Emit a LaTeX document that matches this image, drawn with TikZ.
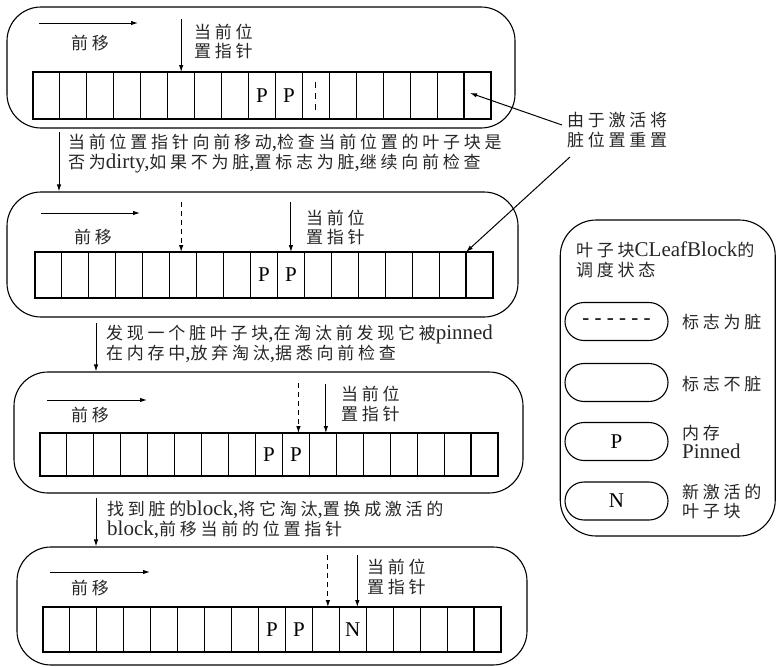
\documentclass[tikz,border=0pt]{standalone}
\usepackage{fontspec}
\setmainfont{Liberation Serif}
\newfontfamily\cjk[LetterSpace=22]{Noto Sans CJK SC}
\usetikzlibrary{arrows.meta}
\newcommand{\la}[1]{{\rmfamily\fontsize{21}{19.5}\selectfont #1}}
\tikzset{
  panel/.style={draw, line width=1.1pt, rounded corners=34pt, inner sep=0pt},
  legendbox/.style={draw, line width=1.1pt, rounded corners=36pt, inner sep=0pt},
  cellbox/.style={draw, line width=1.1pt, minimum width=26.94pt, inner sep=0pt, outer sep=0pt},
  pill/.style={draw, line width=1.1pt, rounded corners=19pt, minimum width=103pt, minimum height=38pt, inner sep=0pt},
  arr/.style={line width=1pt, -{Latex[length=7pt,width=4.5pt]}},
  darr/.style={arr, dash pattern=on 5pt off 4pt},
  txt/.style={inner sep=0pt, align=left, text=black!85, font=\cjk\fontsize{17}{19.5}\selectfont},
  ltr/.style={inner sep=0pt, font=\rmfamily\fontsize{21}{21}\selectfont},
}
\begin{document}
\begin{tikzpicture}[x=1pt, y=-1pt]
\useasboundingbox (0,0) rectangle (777,667);

% ---------- panels ----------
\node[panel, minimum width=508pt, minimum height=121pt] (p1) at (261,67.5) {};
\node[panel, minimum width=511pt, minimum height=125pt] (p2) at (262.5,254.5) {};
\node[panel, minimum width=509pt, minimum height=121pt] (p3) at (268.5,432.5) {};
\node[panel, minimum width=510pt, minimum height=118pt] (p4) at (272,606) {};

% ---------- cells ----------
\foreach \i in {0,...,16} {
  \node[cellbox, minimum height=47pt] (c1-\i) at ({33+26.94*(\i+0.5)}, 95.5) {};
  \node[cellbox, minimum height=46pt] (c2-\i) at ({35+26.94*(\i+0.5)}, 275) {};
  \node[cellbox, minimum height=43pt] (c3-\i) at ({40+26.94*(\i+0.5)}, 454.5) {};
  \node[cellbox, minimum height=45pt] (c4-\i) at ({43+26.94*(\i+0.5)}, 629.5) {};
}

% cell contents
\node[ltr] (l1p8) at (c1-8) {P};
\node[ltr] (l1p9) at (c1-9) {P};
\draw[line width=1pt, dash pattern=on 6pt off 5pt] ([yshift=-10pt]c1-10.north) -- ([yshift=9pt]c1-10.south);
\node[ltr] (l2p8) at (c2-8) {P};
\node[ltr] (l2p9) at (c2-9) {P};
\node[ltr] (l3p8) at (c3-8) {P};
\node[ltr] (l3p9) at (c3-9) {P};
\node[ltr] (l4p8) at (c4-8) {P};
\node[ltr] (l4p9) at (c4-9) {P};
\node[ltr] (l4n11) at (c4-11) {N};

% ---------- panel 1 ----------
\coordinate (f1s) at (39,23);
\coordinate (f1e) at (138,23);
\draw[arr] (f1s) -- (f1e);
\node[txt] (m1) at (90,43) {前移};
\draw[arr] ([yshift=53pt]c1-5.north) -- (c1-5.north);
\node[txt, anchor=west] (q1) at (194,41.5) {当前位\\置指针};

% ---------- panel 2 ----------
\coordinate (f2s) at (41,213);
\coordinate (f2e) at (140,213);
\draw[arr] (f2s) -- (f2e);
\node[txt] (m2) at (93,237) {前移};
\draw[darr] ([xshift=-2pt,yshift=50pt]c2-5.north) -- ([xshift=-2pt]c2-5.north);
\draw[arr] ([yshift=50pt]c2-9.north) -- (c2-9.north);
\node[txt, anchor=west] (q2) at (306,227.5) {当前位\\置指针};

% ---------- panel 3 ----------
\coordinate (f3s) at (47,400);
\coordinate (f3e) at (147,400);
\draw[arr] (f3s) -- (f3e);
\node[txt] (m3) at (90,415) {前移};
\draw[darr] ([xshift=2.5pt,yshift=50pt]c3-9.north) -- ([xshift=2.5pt]c3-9.north);
\draw[arr] ([xshift=3pt,yshift=49pt]c3-10.north) -- ([xshift=3pt]c3-10.north);
\node[txt, anchor=west] (q3) at (341,404) {当前位\\置指针};

% ---------- panel 4 ----------
\coordinate (f4s) at (50,572);
\coordinate (f4e) at (150,572);
\draw[arr] (f4s) -- (f4e);
\node[txt] (m4) at (90,588) {前移};
\draw[darr] ([xshift=2pt,yshift=52pt]c4-10.north) -- ([xshift=2pt]c4-10.north);
\draw[arr] ([xshift=4.5pt,yshift=52pt]c4-11.north) -- ([xshift=4.5pt]c4-11.north);
\node[txt, anchor=west] (q4) at (367,577) {当前位\\置指针};

% ---------- transitions ----------
\coordinate (a1) at (59,132);
\draw[arr] (a1) -- (a1 |- p2.north);
\node[txt, anchor=west] (t1) at (68,153.5) {当前位置指针向前移动\la{,}检查当前位置的叶子块是\\否为\la{dirty,}如果不为脏\la{,}置标志为脏\la{,}继续向前检查};

\coordinate (a2) at (96,323);
\draw[arr] (a2) -- (a2 |- p3.north);
\node[txt, anchor=west] (t2) at (106,344) {发现一个脏叶子块\la{,}在淘汰前发现它被\la{pinned}\\在内存中\la{,}放弃淘汰\la{,}据悉向前检查};

\coordinate (a3) at (96,498);
\draw[arr] (a3) -- (a3 |- p4.north);
\node[txt, anchor=west] (t3) at (107,520) {找到脏的\la{block,}将它淘汰\la{,}置换成激活的\\\la{block,}前移当前的位置指针};

% ---------- annotation ----------
\node[txt, anchor=west] (ann) at (567,130) {由于激活将\\脏位置重置};
\coordinate (s1) at (562,125);
\coordinate (s2) at (570,157);
\draw[arr] (s1) -- ([xshift=6pt,yshift=2.5pt]c1-16.west);
\draw[arr] (s2) -- (c2-16.north west);

% ---------- legend ----------
\node[legendbox, minimum width=215pt, minimum height=316pt] (leg) at (667.75,378) {};
\node[txt, anchor=west] (legt) at (576,260) {叶子块\la{CLeafBlock}的\\调度状态};
\node[pill] (k1) at (616.5,321.5) {\la{- - - - - -}};
\node[pill] (k2) at (616.5,382.5) {};
\node[pill] (k3) at (616.5,441.5) {\la{P}};
\node[pill] (k4) at (616.5,501) {\la{N}};
\node[txt, anchor=west] (k1t) at (682,322.5) {标志为脏};
\node[txt, anchor=west] (k2t) at (682,384.5) {标志不脏};
\node[txt, anchor=west] (k3t) at (682,442) {内存\\\la{Pinned}};
\node[txt, anchor=west] (k4t) at (682,501.5) {新激活的\\叶子块};
\end{tikzpicture}
\end{document}
